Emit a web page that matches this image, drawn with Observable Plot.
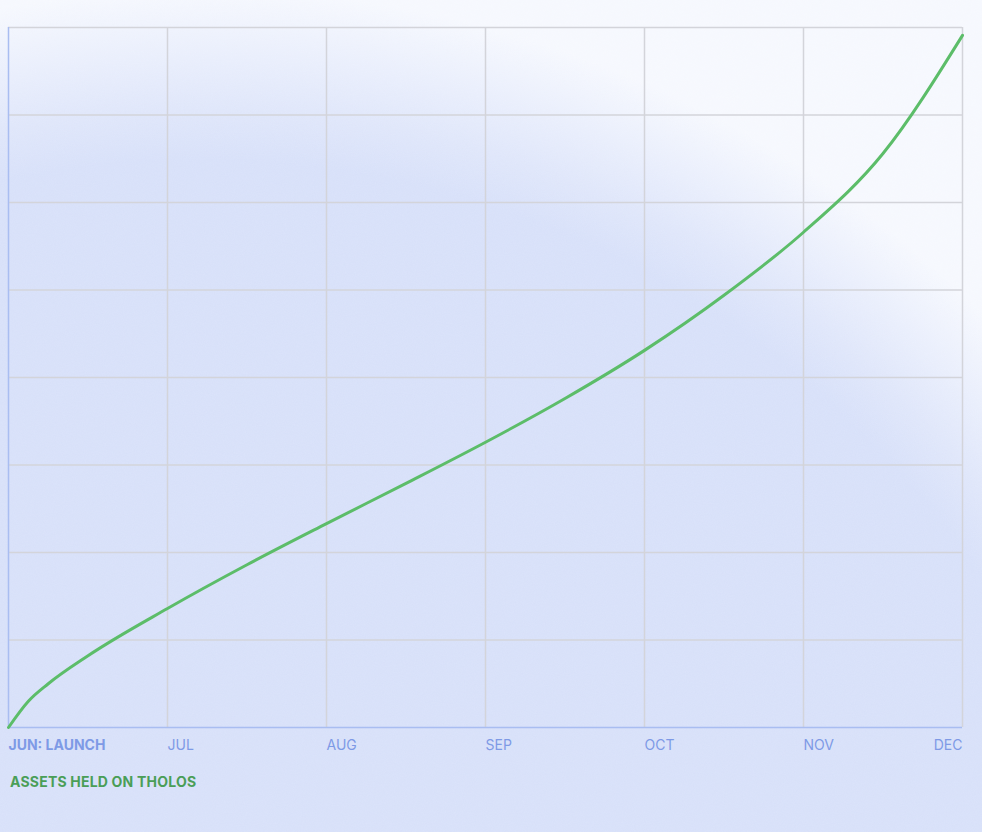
<!DOCTYPE html>
<html>
<head>
<meta charset="utf-8">
<script src="https://cdn.jsdelivr.net/npm/d3@7"></script>
<script src="https://cdn.jsdelivr.net/npm/@observablehq/plot@0.6"></script>
<style>
  html, body { margin: 0; padding: 0; }
  body { width: 982px; height: 832px; overflow: hidden; font-family: Inter, "Noto Sans", sans-serif; }
  #wrap {
    position: relative; width: 982px; height: 832px;
    background: radial-gradient(circle at 200px 1100px, #d7e0f9 0px, #d7e0f9 940px, #dfe6fa 990px, #e9eefc 1040px, #f7f9fe 1110px);
  }
  #noise { position: absolute; left: 0; top: 0; pointer-events: none; }
  #chart { position: absolute; left: 0; top: 0; }
  #caption {
    position: absolute; left: 10px; top: 773px;
    font: 700 14px Inter, sans-serif; color: #4a9e57; letter-spacing: 0.2px;
  }
</style>
</head>
<body>
<div id="wrap">
  <svg id="noise" width="982" height="832">
    <filter id="n"><feTurbulence type="fractalNoise" baseFrequency="0.9" numOctaves="2" seed="3"/><feColorMatrix values="0 0 0 0 0.85  0 0 0 0 0.88  0 0 0 0 0.98  0 0 0 0.35 0"/></filter>
    <rect width="982" height="832" filter="url(#n)" opacity="0.5"/>
  </svg>
  <div id="chart"></div>
  <div id="caption">ASSETS HELD ON THOLOS</div>
</div>
<script>
// Month tick labels (x positions 0..6)
const months = ["JUN: LAUNCH", "JUL", "AUG", "SEP", "OCT", "NOV", "DEC"];
const monthIdx = [0, 1, 2, 3, 4, 5, 6];
// Horizontal grid rows
const gridY = [0, 1, 2, 3, 4, 5, 6, 7, 8];
// Curve: assets held on Tholos (month index, relative units)
const curveX = [0, 0.125, 0.25, 0.5, 1.0, 1.5, 2.0, 2.5, 3.0, 3.5, 4.0, 4.5, 5.0, 5.5, 6.0];
const curveY = [0, 0.30, 0.50, 0.82, 1.36, 1.86, 2.33, 2.79, 3.26, 3.76, 4.31, 4.94, 5.66, 6.56, 7.91];

const curve = curveX.map((x, i) => ({x, y: curveY[i]}));
const labels = months.map((m, i) => ({x: monthIdx[i], label: m}));

const blue = "#7e9ae6";
const plot = Plot.plot({
  width: 982,
  height: 760,
  marginTop: 27,
  marginLeft: 8,
  marginRight: 20,
  marginBottom: 33,
  x: {domain: [0, 6], axis: null},
  y: {domain: [0, 8], axis: null},
  style: {background: "transparent", overflow: "visible"},
  marks: [
    Plot.ruleY(gridY.filter(d => d > 0), {stroke: "#d3d4da", strokeWidth: 1.5, strokeOpacity: 1}),
    Plot.ruleX(monthIdx.filter(d => d > 0), {stroke: "#d3d4da", strokeWidth: 1.5, strokeOpacity: 1}),
    Plot.ruleX([0], {stroke: "#a9bdf1", strokeWidth: 1.5}),
    Plot.ruleY([0], {stroke: "#a9bdf1", strokeWidth: 1.5}),
    Plot.line(curve, {x: "x", y: "y", curve: "monotone-x", stroke: "#5cbd69", strokeWidth: 3}),
    Plot.text(labels.slice(0, 1), {x: "x", y: () => 0, text: "label", dy: 18, textAnchor: "start", fill: blue, fontSize: 14, fontWeight: 700}),
    Plot.text(labels.slice(1, 6), {x: "x", y: () => 0, text: "label", dy: 18, textAnchor: "start", fill: blue, fontSize: 14}),
    Plot.text(labels.slice(6), {x: "x", y: () => 0, text: "label", dy: 18, textAnchor: "end", fill: blue, fontSize: 14})
  ]
});
plot.style.fontFamily = "Inter, sans-serif";
document.getElementById("chart").appendChild(plot);
</script>
</body>
</html>
